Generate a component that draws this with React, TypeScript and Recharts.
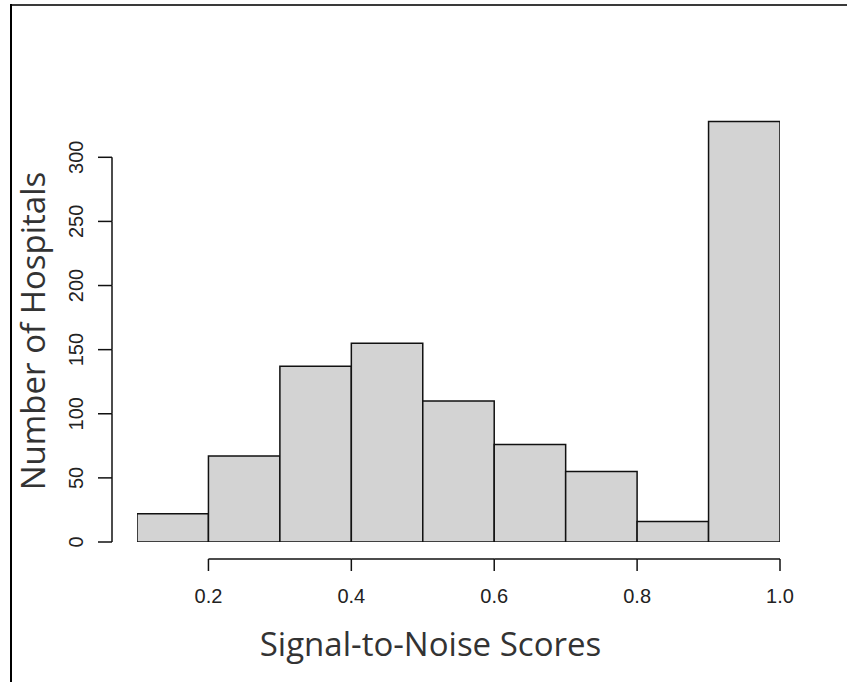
import React from "react";
import { BarChart, Bar, XAxis, YAxis } from "recharts";

const binStarts = [0.1, 0.2, 0.3, 0.4, 0.5, 0.6, 0.7, 0.8, 0.9];
const binWidth = 0.1;
const counts = [22, 67, 137, 155, 110, 76, 55, 16, 328];
const xTicks = [0.2, 0.4, 0.6, 0.8, 1.0];
const yTicks = [0, 50, 100, 150, 200, 250, 300];
const xDomain = [0.1, 1.0];
const yDomain = [0, 340];
const xTitle = "Signal-to-Noise Scores";
const yTitle = "Number of Hospitals";

const data = binStarts.map((s, i) => ({ mid: s + binWidth / 2, count: counts[i] }));

const W = 847;
const H = 682;
const M = { top: 106, right: 67, bottom: 0, left: 0 };
const Y_AXIS_W = 137;
const X_AXIS_H = 140;
const plotW = W - M.left - M.right - Y_AXIS_W;
const plotH = H - M.top - M.bottom - X_AXIS_H;
const pxPerX = plotW / (xDomain[1] - xDomain[0]);
const pxPerY = plotH / (yDomain[1] - yDomain[0]);
const barPx = binWidth * pxPerX - 0.01;

const tickFont = "'Liberation Sans', Arial, sans-serif";
const titleFont = "'Open Sans', 'Noto Sans', sans-serif";

const XTick = (props: any) => {
  const { x, y, payload, index } = props;
  const last = index === xTicks.length - 1;
  const step = (xTicks[1] - xTicks[0]) * pxPerX;
  return (
    <g>
      {!last && <line x1={x} x2={x + step} y1={y + 17} y2={y + 17} stroke="#111" strokeWidth={1.5} />}
      <line x1={x} x2={x} y1={y + 17} y2={y + 29} stroke="#111" strokeWidth={1.5} />
      <text x={x} y={y + 61} textAnchor="middle" fontFamily={tickFont} fontSize={20} fill="#222">
        {Number(payload.value).toFixed(1)}
      </text>
    </g>
  );
};

const YTick = (props: any) => {
  const { x, y, payload } = props;
  const v = Number(payload.value);
  const last = v === yTicks[yTicks.length - 1];
  const step = (yTicks[1] - yTicks[0]) * pxPerY;
  return (
    <g>
      {!last && <line x1={x - 25} x2={x - 25} y1={y} y2={y - step} stroke="#111" strokeWidth={1.5} />}
      <line x1={x - 39} x2={x - 25} y1={y} y2={y} stroke="#111" strokeWidth={1.5} />
      <text
        x={x - 54}
        y={y}
        transform={`rotate(-90 ${x - 54} ${y})`}
        textAnchor="middle"
        fontFamily={tickFont}
        fontSize={20}
        fill="#222"
      >
        {v}
      </text>
    </g>
  );
};

const XTitle = (props: any) => {
  const vb = props.viewBox;
  const cx = vb.x + vb.width / 2 - 28;
  return (
    <text x={cx} y={vb.y + 114} textAnchor="middle" fontFamily={titleFont} fontSize={33} fill="#333">
      {xTitle}
    </text>
  );
};

const YTitle = (props: any) => {
  const vb = props.viewBox;
  const cx = vb.x + 45;
  const cy = vb.y + vb.height / 2 + 7;
  return (
    <text
      x={cx}
      y={cy}
      transform={`rotate(-90 ${cx} ${cy})`}
      textAnchor="middle"
      fontFamily={titleFont}
      fontSize={33}
      fill="#333"
    >
      {yTitle}
    </text>
  );
};

export default function App() {
  return (
    <div style={{ position: "absolute", left: 0, top: 0, width: W, height: H, background: "#fff", overflow: "hidden" }}>
      <div style={{ position: "absolute", left: 10, top: 4, width: W - 10, height: 2, background: "#3a3a3a" }} />
      <div style={{ position: "absolute", left: 10, top: 4, width: 2, height: H - 4, background: "#000" }} />
      <div style={{ position: "absolute", left: 0, top: 0 }}>
        <BarChart width={W} height={H} data={data} margin={M} barCategoryGap={0} barGap={0}>
          <XAxis
            dataKey="mid"
            type="number"
            domain={xDomain}
            ticks={xTicks}
            interval={0}
            height={X_AXIS_H}
            axisLine={false}
            tickLine={false}
            tickSize={0}
            tickMargin={0}
            tick={<XTick />}
            allowDataOverflow
            label={<XTitle />}
          />
          <YAxis
            type="number"
            domain={yDomain}
            ticks={yTicks}
            interval={0}
            width={Y_AXIS_W}
            axisLine={false}
            tickLine={false}
            tickSize={0}
            tickMargin={0}
            tick={<YTick />}
            allowDataOverflow
            label={<YTitle />}
          />
          <Bar dataKey="count" barSize={barPx} fill="#d3d3d3" stroke="#111" strokeWidth={1.5} isAnimationActive={false} />
        </BarChart>
      </div>
    </div>
  );
}
